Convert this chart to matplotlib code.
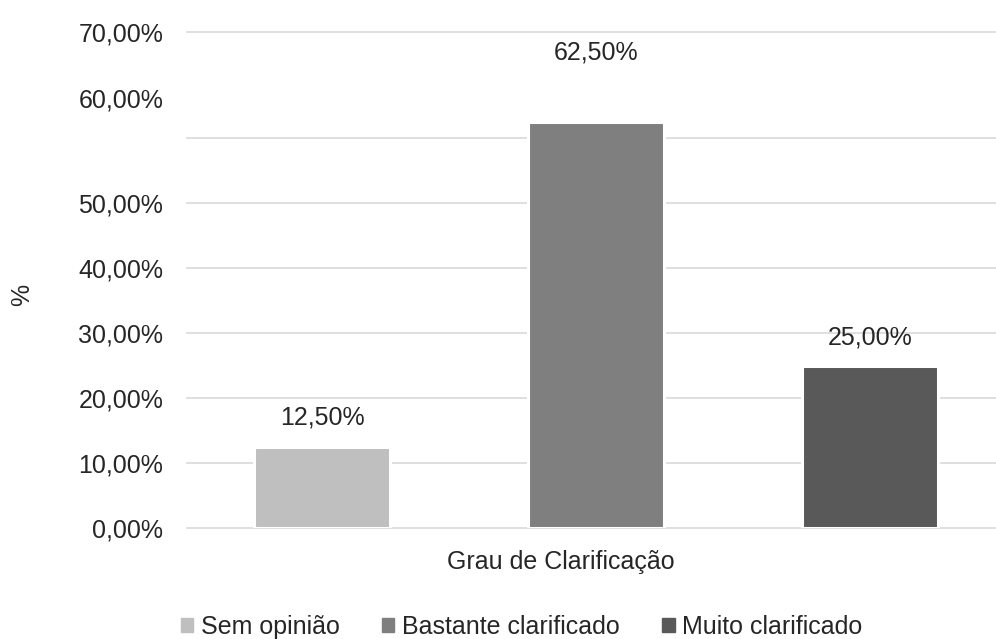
import matplotlib
matplotlib.use("Agg")
import matplotlib.pyplot as plt

plt.rcParams['font.family'] = ['Liberation Sans', 'DejaVu Sans']

# Data
series = ["Sem opinião", "Bastante clarificado", "Muito clarificado"]
values = [12.5, 62.5, 25.0]
colors = ["#BFBFBF", "#7F7F7F", "#595959"]
category = "Grau de Clarificação"
tick_labels = ["0,00%", "10,00%", "20,00%", "30,00%", "40,00%", "50,00%", "60,00%", "70,00%"]

# Layout (pixels at dpi 100)
W, H = 996, 639
fig = plt.figure(figsize=(W / 100, H / 100), dpi=100)
px_per_unit = 6.5
ax_left, ax_right = 187, 1005
ax_bottom_px = 528          # y pixel (from top) of 0 %
ax_top_px = 32              # y pixel of the top line
ymax = (ax_bottom_px - ax_top_px) / px_per_unit

ax = fig.add_axes([ax_left / W, (H - ax_bottom_px) / H,
                   (ax_right - ax_left) / W, (ax_bottom_px - ax_top_px) / H])

spacing = 274.0
x = list(range(len(values)))
xmin = (ax_left - 322) / spacing
ax.set_xlim(xmin, xmin + (ax_right - ax_left) / spacing)
ax.set_ylim(0, ymax)

# Gridlines
grid_vals = [0, 10, 20, 30, 40, 50, 60, ymax]
for g in grid_vals:
    ax.axhline(g, color="#D9D9D9", lw=1.2, zorder=1, clip_on=False)

bar_w = (133 + 3) / spacing
bars = ax.bar(x, values, width=bar_w, color=colors, edgecolor="white",
              linewidth=2.2, zorder=2, label=None)

# Value labels
label_offsets_px = [29, 69, 28]
for xi, v, off in zip(x, values, label_offsets_px):
    ax.annotate(f"{v:.2f}%".replace(".", ","), xy=(xi, v),
                xytext=(0, off * 0.72), textcoords="offset points",
                ha="center", va="center", fontsize=18, color="#262626")

# Y tick labels
label_pos = [0, 10, 20, 30, 40, 50, (ax_bottom_px - 98) / px_per_unit, ymax]
ax.set_yticks(label_pos)
ax.set_yticklabels(tick_labels, fontsize=18, color="#262626")
ax.tick_params(axis="y", length=0, pad=17)
ax.set_xticks([])
for s in ax.spines.values():
    s.set_visible(False)

fig.text(22 / W, 1 - 295 / H, "%", rotation=90, ha="center", va="center",
         fontsize=18, color="#262626")
fig.text(561 / W, 1 - 562 / H, category, ha="center", va="center",
         fontsize=18, color="#262626")

handles = [plt.Rectangle((0, 0), 1, 1, color=c) for c in colors]
fig.legend(handles, series, loc="center", bbox_to_anchor=(521.5 / W, 1 - 627 / H),
           ncol=3, frameon=False, fontsize=18, handlelength=0.5, handleheight=0.5,
           handletextpad=0.3, columnspacing=1.7, borderpad=0, labelcolor="#262626")

fig.savefig("out.png", dpi=100, facecolor="white")
